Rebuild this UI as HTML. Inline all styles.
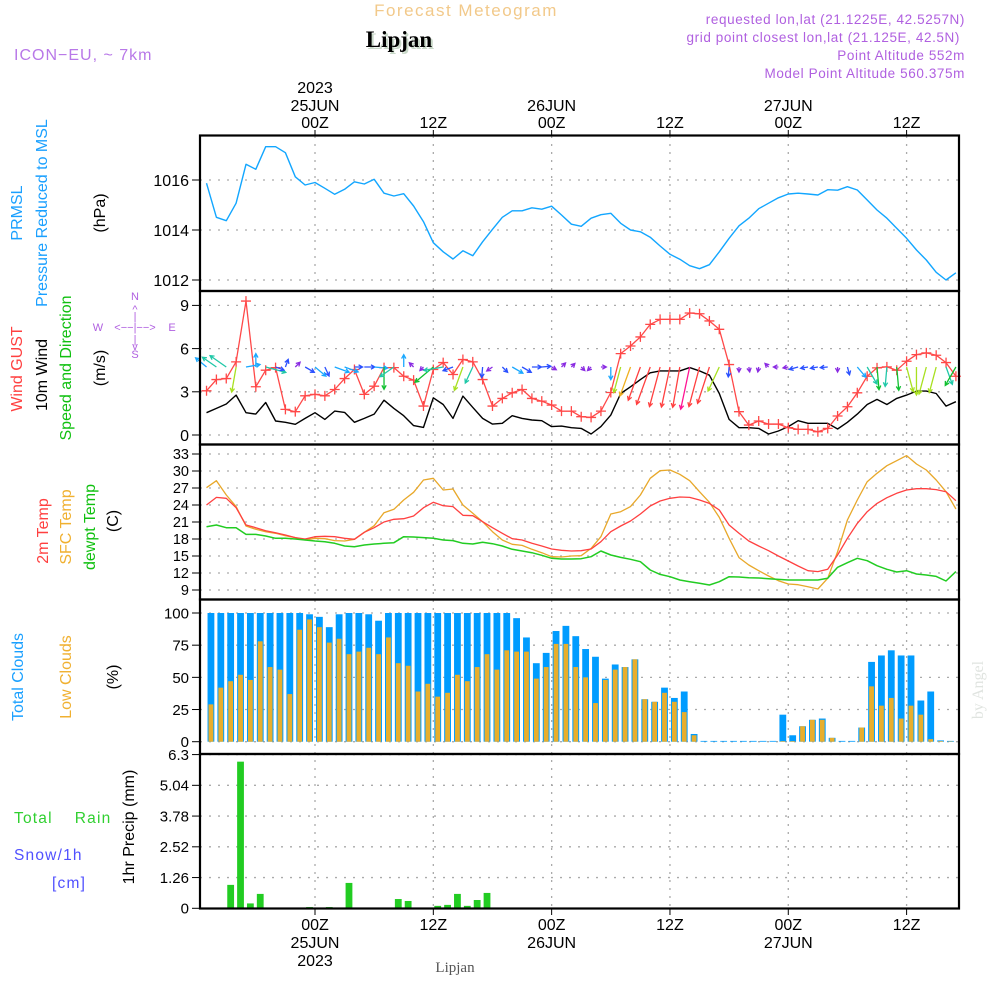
<!DOCTYPE html>
<html><head><meta charset="utf-8"><style>
html,body{margin:0;padding:0;background:#fff;}
svg{display:block;font-family:"Liberation Sans",sans-serif;}
</style></head><body>
<svg id="chart" width="1000" height="1000" viewBox="0 0 1000 1000" xmlns="http://www.w3.org/2000/svg">
<rect x="0" y="0" width="1000" height="1000" fill="#fff"/>
<g id="hdr">
<text x="466" y="16" text-anchor="middle" font-size="17" fill="#f2c98a" letter-spacing="1.5">Forecast Meteogram</text>
<text x="401" y="49" text-anchor="middle" font-size="23" font-weight="bold" font-family="Liberation Serif,serif" fill="#c8d8c8">Lipjan</text>
<text x="399" y="47" text-anchor="middle" font-size="23" font-weight="bold" font-family="Liberation Serif,serif" fill="#000">Lipjan</text>
<text x="14" y="60" font-size="16" fill="#b878e8" letter-spacing="1">ICON−EU, ~ 7km</text>
<g font-size="13.5" fill="#b060e0" text-anchor="end" letter-spacing="0.6">
<text x="965" y="24">requested lon,lat (21.1225E, 42.5257N)</text>
<text x="960" y="42">grid point closest lon,lat (21.125E, 42.5N)</text>
<text x="965" y="60">Point Altitude 552m</text>
<text x="965" y="78">Model Point Altitude 560.375m</text>
</g>
</g>
<g id="grid"></g>
<g id="marks"></g>
<g id="frame"></g>
<g id="axes"></g>
<g id="labels">
<g font-size="16">
<text transform="translate(22,213) rotate(-90)" text-anchor="middle" fill="#1aa0ff">PRMSL</text>
<text transform="translate(47,213) rotate(-90)" text-anchor="middle" fill="#1aa0ff">Pressure Reduced to MSL</text>
<text transform="translate(105,213) rotate(-90)" text-anchor="middle" fill="#000">(hPa)</text>
<text transform="translate(22,369) rotate(-90)" text-anchor="middle" fill="#ff4040">Wind GUST</text>
<text transform="translate(47,375) rotate(-90)" text-anchor="middle" fill="#000">10m Wind</text>
<text transform="translate(71,368) rotate(-90)" text-anchor="middle" fill="#10c010">Speed and Direction</text>
<text transform="translate(105,368) rotate(-90)" text-anchor="middle" fill="#000">(m/s)</text>
<text transform="translate(48,531) rotate(-90)" text-anchor="middle" fill="#ff4040">2m Temp</text>
<text transform="translate(71,527) rotate(-90)" text-anchor="middle" fill="#f0b030">SFC Temp</text>
<text transform="translate(95,527) rotate(-90)" text-anchor="middle" fill="#10c010">dewpt Temp</text>
<text transform="translate(118,521) rotate(-90)" text-anchor="middle" fill="#000">(C)</text>
<text transform="translate(23,677) rotate(-90)" text-anchor="middle" fill="#1aa0ff">Total Clouds</text>
<text transform="translate(71,677) rotate(-90)" text-anchor="middle" fill="#f0b030">Low Clouds</text>
<text transform="translate(118,677) rotate(-90)" text-anchor="middle" fill="#000">(%)</text>
<text transform="translate(134,827) rotate(-90)" text-anchor="middle" fill="#000">1hr Precip (mm)</text>
</g>
<g font-size="15.5" letter-spacing="1.2">
<text x="14" y="823" fill="#30d030">Total&#160;&#160;&#160;&#160;Rain</text>
<text x="14" y="860" fill="#5050ff">Snow/1h</text>
<text x="52" y="888" fill="#5050ff">[cm]</text>
</g>
<g fill="#b060e0" font-size="11" text-anchor="middle">
<text x="135" y="300">N</text><text x="135" y="313">^</text><text x="135" y="320">|</text>
<text x="98" y="331">W</text><text x="172" y="331">E</text>
<text x="135" y="331">&lt;−−|−−&gt;</text>
<text x="135" y="343">|</text><text x="135" y="350">v</text><text x="135" y="358">S</text>
</g>
<text transform="translate(983,690) rotate(-90)" text-anchor="middle" font-family="Liberation Serif,serif" font-size="16" fill="#e0e4e0">by Angel</text>
<text x="455" y="972" text-anchor="middle" font-family="Liberation Serif,serif" font-size="15" fill="#555">Lipjan</text>
</g>
</svg>
<script>
const pressure = [1015.87,1014.51,1014.37,1015.07,1016.63,1016.43,1017.33,1017.33,1017.09,1016.13,1015.8,1015.9,1015.67,1015.43,1015.63,1015.93,1015.84,1016.03,1015.47,1015.36,1015.45,1014.96,1014.33,1013.49,1013.13,1012.84,1013.17,1012.97,1013.53,1014.03,1014.51,1014.77,1014.77,1014.89,1014.83,1014.95,1014.6,1014.23,1014.15,1014.47,1014.61,1014.67,1014.27,1014.0,1013.93,1013.71,1013.36,1013.03,1012.83,1012.57,1012.45,1012.61,1013.13,1013.67,1014.17,1014.47,1014.85,1015.07,1015.29,1015.44,1015.47,1015.44,1015.4,1015.61,1015.59,1015.73,1015.6,1015.2,1014.8,1014.47,1014.07,1013.67,1013.2,1012.8,1012.31,1012.0,1012.29];
const gust = [3.07,3.85,3.92,5.08,9.3,3.35,4.5,4.68,1.78,1.62,2.72,2.82,2.72,3.16,3.92,4.55,2.82,3.39,4.68,4.68,4.08,3.81,2.01,4.55,5.03,4.2,5.24,5.08,3.85,2.01,2.54,2.93,3.16,2.54,2.35,2.08,1.66,1.66,1.27,1.22,1.66,2.95,5.65,6.18,6.81,7.68,8.03,8.03,8.03,8.47,8.42,7.92,7.34,4.89,1.62,0.69,0.97,0.76,0.76,0.51,0.39,0.39,0.23,0.46,1.32,1.96,2.93,4.08,4.66,4.73,4.5,5.12,5.58,5.7,5.54,5.03,4.08];
const windSpeed = [1.55,1.85,2.15,2.77,1.55,1.45,2.26,0.97,0.88,0.74,1.15,1.55,1.08,1.66,1.57,0.88,1.15,1.45,2.42,1.85,1.34,0.65,0.53,2.58,2.12,1.15,2.7,1.92,1.15,0.76,0.81,1.34,1.15,1.04,0.99,0.58,0.62,0.51,0.46,0.07,0.58,1.38,2.88,3.35,3.85,4.32,4.45,4.45,4.45,4.68,4.45,4.15,2.88,1.08,0.51,0.51,0.46,0.07,0.28,0.58,0.99,0.81,0.81,0.81,0.42,0.88,1.45,2.12,2.47,2.12,2.54,2.77,3.05,3.05,2.88,2.01,2.31];
const windDir = [130,125,125,10,260,180,285,290,200,225,300,310,335,290,290,270,270,275,0,55,180,135,45,50,80,70,20,25,5,55,315,300,300,270,265,300,225,225,315,45,270,0,15,20,20,20,15,12,10,12,15,18,25,5,0,350,10,135,90,80,75,80,80,85,0,345,320,330,355,5,355,345,0,15,15,340,30];
const temp2m = [24.0,25.35,25.18,23.53,20.47,20.0,19.47,19.12,18.71,18.24,18.0,18.41,18.47,18.41,18.12,17.94,19.18,20.0,21.0,21.47,21.59,22.06,23.53,24.47,23.88,23.71,22.18,22.12,21.06,20.0,19.0,18.06,17.82,17.24,16.76,16.24,16.0,15.88,15.94,16.24,17.53,19.29,20.29,21.18,22.41,23.82,24.71,25.18,25.41,25.35,24.88,24.29,23.12,20.47,19.0,17.65,16.76,15.94,15.0,14.12,13.24,12.41,12.24,12.65,15.18,18.12,20.76,22.82,24.29,25.29,26.06,26.65,26.88,26.88,26.71,26.35,24.76];
const tempSfc = [27.06,28.29,25.76,23.71,20.29,19.71,19.29,19.0,18.59,18.24,17.82,18.12,18.06,17.71,17.65,17.94,19.18,20.35,22.65,23.24,24.88,26.24,28.41,28.71,26.65,26.82,24.0,22.53,21.06,19.29,17.82,17.06,16.88,16.18,15.59,14.88,14.82,15.0,15.06,16.35,18.41,22.41,22.82,23.71,25.76,28.71,30.06,30.18,29.41,28.29,26.35,24.47,21.82,18.12,14.71,13.41,12.41,11.47,10.65,10.06,9.94,9.59,9.18,11.06,15.76,21.35,24.88,28.12,29.59,30.94,31.82,32.71,31.24,30.18,28.41,26.35,23.29];
const dewpt = [20.18,20.47,20.0,20.0,18.82,18.82,18.53,18.12,18.12,18.0,17.82,17.65,17.53,17.24,16.76,16.65,16.94,17.12,17.24,17.35,18.41,18.35,18.24,18.12,17.82,17.71,17.24,17.12,17.41,17.18,16.76,16.18,15.88,15.59,15.12,14.59,14.47,14.47,14.53,14.88,15.88,15.18,14.76,14.41,14.0,12.53,11.76,11.35,10.76,10.47,10.18,9.88,10.47,11.35,11.29,11.18,11.12,11.0,10.88,10.76,10.76,10.76,10.76,11.06,13.0,13.82,14.59,14.18,13.29,12.65,12.18,12.41,11.82,11.65,11.41,10.59,12.24];
const totalClouds = [100,100,100,100,100,100,100,100,100,100,99,97,89,99,100,100,99,94,100,100,100,100,100,100,100,100,100,100,100,100,100,96,81,61,69,86,90,82,72,66,49,60,58,64,33,31,42,34,39,6,0,0,0,0,0,0,0,0,21,5,12,17,18,3,0,0,11,62,67,71,67,67,32,39,1,0];
const lowClouds = [29,42,47,52,48,78,58,56,37,87,95,89,77,80,68,70,73,68,81,61,59,39,45,35,38,52,47,58,68,56,71,70,70,49,58,76,76,58,50,30,48,56,58,64,33,31,38,31,23,5,0,0,0,0,0,0,0,0,0.5,0.5,12,17,17,3,0,0,11,43,28,34,18,28,21,2,0.5,0.3];
const rain = [0,0,0.96,6.01,0.2,0.59,0,0,0,0,0.05,0,0.05,0,1.04,0,0,0,0,0.38,0.3,0,0,0.1,0.14,0.59,0.1,0.34,0.63,0,0,0,0,0,0,0,0,0,0,0,0,0,0,0,0,0,0,0,0,0,0,0,0,0,0,0,0,0,0,0,0,0,0,0,0,0,0,0,0,0,0,0,0,0,0,0];
const pressureTicks = [1012,1014,1016];
const windTicks = [0,3,6,9];
const tempTicks = [9,12,15,18,21,24,27,30,33];
const cloudTicks = [0,25,50,75,100];
const rainTicks = [0,1.26,2.52,3.78,5.04,6.3];
const timeTickHours = [0,12,24,36,48,60];
const timeTickTop = [["2023","25JUN","00Z"],["","","12Z"],["","26JUN","00Z"],["","","12Z"],["","27JUN","00Z"],["","","12Z"]];
const timeTickBottom = [["00Z","25JUN","2023"],["12Z","",""],["00Z","26JUN",""],["12Z","",""],["00Z","27JUN",""],["12Z","",""]];

const NS='http://www.w3.org/2000/svg';
function mk(parent,tag,attrs){const e=document.createElementNS(NS,tag);for(const k in attrs)e.setAttribute(k,attrs[k]);parent.appendChild(e);return e;}
const X0=200,X1=959;
const xh=h=>315+9.86*h;
const xk=k=>xh(k-11);
const xb=i=>xk(i)+4.4;
const yP=p=>180+(1016-p)*25;
const yW=v=>435-v*14.4;
const yT=t=>454+(33-t)*5.667;
const yC=c=>741.7-c*1.287;
const yR=r=>908.3-r*24.4;
const panels=[[135.5,291],[291,444.5],[444.5,599.5],[599.5,754],[754,908.5]];

const grid=document.getElementById('grid'),marks=document.getElementById('marks'),frame=document.getElementById('frame'),axes=document.getElementById('axes');
timeTickHours.forEach(h=>{
  const l=mk(grid,'line',{x1:xh(h),x2:xh(h),y1:136,y2:908,stroke:'#aaa','stroke-width':1.3,'stroke-dasharray':'2,6'});
  
  
});
function yAxis(ticks,fy,fmt,fs,name){
  ticks.forEach(t=>{
    const y=fy(t);
    const g=mk(grid,'line',{x1:X0,x2:X1,y1:y,y2:y,stroke:'#aaa','stroke-width':1.3,'stroke-dasharray':'2,7'});
    
    
    mk(axes,'line',{x1:192,x2:X0,y1:y,y2:y,stroke:'#000','stroke-width':1});
    const tx=mk(axes,'text',{x:189,y:y+fs*0.36,'text-anchor':'end','font-size':fs,fill:'#000'});
    tx.textContent=fmt(t);
    
    
  });
}
yAxis(pressureTicks,yP,String,16,'pressure');
yAxis(windTicks,yW,String,16,'wind');
yAxis(tempTicks,yT,String,14.5,'temp');
yAxis(cloudTicks,yC,String,15,'cloud');
yAxis(rainTicks,yR,String,15,'precip');

function line(vals,fx,fy,color,w,name){
  const d=vals.map((v,i)=>(i?'L':'M')+fx(i).toFixed(1)+','+fy(v).toFixed(1)).join('');
  const p=mk(marks,'path',{d:d,fill:'none',stroke:color,'stroke-width':w,'stroke-linejoin':'round'});
  
  
  return p;
}
line(pressure,xk,yP,'#12a6ff',1.4,'pressure-line');
totalClouds.forEach((c,i)=>{
  const y=yC(c),h=Math.max(741.7-y,0.8);
  const r=mk(marks,'rect',{x:xb(i)-3.4,y:741.7-h,width:6.8,height:h,fill:'#009cff'});
  
  
});
lowClouds.forEach((c,i)=>{
  const y=yC(c),h=741.7-y;
  const r=mk(marks,'rect',{x:xb(i)-2.4,y:y,width:4.8,height:h,fill:'#e8ae2c'});
  
  
});
rain.forEach((v,i)=>{
  if(v<=0)return;
  const y=yR(v);
  const r=mk(marks,'rect',{x:xb(i)-3.4,y:y,width:6.8,height:908.3-y,fill:'#22cc22'});
  
  
});
line(tempSfc,xk,yT,'#e8a82a',1.3,'sfc-temp-line');
line(temp2m,xk,yT,'#ff4040',1.3,'temp-2m-line');
line(dewpt,xk,yT,'#22cc22',1.5,'dewpt-line');
line(windSpeed,xk,yW,'#000',1.4,'wind-speed-line');
line(gust,xk,yW,'#ff4848',1.3,'gust-line');
gust.forEach((v,i)=>{
  const x=xk(i),y=yW(v);
  const p=mk(marks,'path',{d:`M${x-5},${y}H${x+5}M${x},${y-5}V${y+5}`,stroke:'#ff4848','stroke-width':1.3});
  
  
});
function spdColor(s){
  if(s<0.8)return '#8a2be2';
  if(s<1.3)return '#2a50ff';
  if(s<1.7)return '#1aa8ff';
  if(s<2.3)return '#20c8a8';
  if(s<2.7)return '#10c030';
  if(s<3.2)return '#a8e020';
  if(s<3.6)return '#f0b020';
  if(s<4.6)return '#ff4040';
  return '#ff1493';
}
windDir.forEach((d,i)=>{
  const s=windSpeed[i],len=Math.max(5,s*9.2),a=d*Math.PI/180;
  const ux=-Math.sin(a),uy=Math.cos(a);
  const x=xk(i),y=367,hx=x+ux*len,hy=y+uy*len;
  const hl=4.5,c=Math.cos(0.5),sn=Math.sin(0.5);
  const b1x=hx-hl*(ux*c-uy*sn),b1y=hy-hl*(uy*c+ux*sn);
  const b2x=hx-hl*(ux*c+uy*sn),b2y=hy-hl*(uy*c-ux*sn);
  const p=mk(marks,'path',{d:`M${x},${y}L${hx},${hy}M${b1x},${b1y}L${hx},${hy}L${b2x},${b2y}`,fill:'none',stroke:spdColor(s),'stroke-width':1.3});
  
  
});
panels.forEach(([a,b])=>{
  const r=mk(frame,'rect',{x:X0,y:a,width:X1-X0,height:b-a,fill:'none',stroke:'#000','stroke-width':2.2});
  
  
});
timeTickHours.forEach((h,j)=>{
  const x=xh(h);
  mk(axes,'line',{x1:x,x2:x,y1:130,y2:136,stroke:'#000'});
  mk(axes,'line',{x1:x,x2:x,y1:908,y2:915,stroke:'#000'});
  timeTickTop[j].forEach((t,r)=>{
    if(!t)return;
    const tx=mk(axes,'text',{x:x,y:[93,111,128][r],'text-anchor':'middle','font-size':16,fill:'#000'});
    tx.textContent=t;
    
    
  });
  timeTickBottom[j].forEach((t,r)=>{
    if(!t)return;
    const tx=mk(axes,'text',{x:x,y:[930,948,966][r],'text-anchor':'middle','font-size':16,fill:'#000'});
    tx.textContent=t;
    
    
  });
});
</script>
</body></html>
